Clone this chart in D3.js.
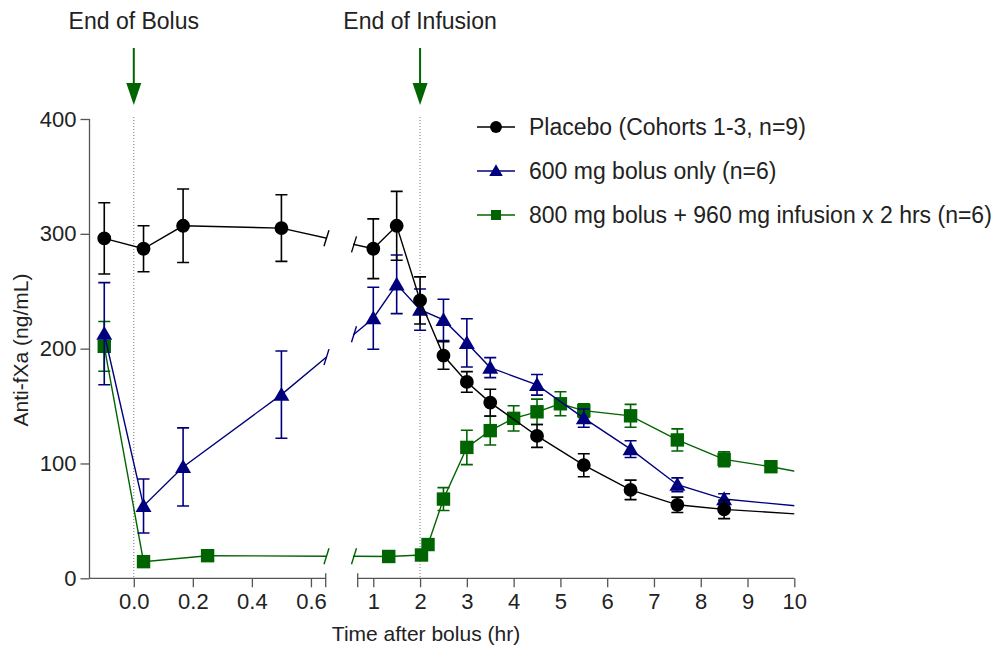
<!DOCTYPE html>
<html>
<head>
<meta charset="utf-8">
<script src="https://cdn.jsdelivr.net/npm/d3@7"></script>
<style>
  html, body { margin: 0; padding: 0; background: #fff; }
  svg text { font-family: "Liberation Sans", Arial, sans-serif; fill: #222; }
</style>
</head>
<body>
<svg id="chart" width="998" height="650"></svg>
<script>
// Anti-fXa activity over time, three dosing cohorts (mean ± SEM)
const placeboTime = [-0.1, 0.033, 0.167, 0.5, 1, 1.5, 2, 2.5, 3, 3.5, 4.5, 5.5, 6.5, 7.5, 8.5, 12];
const placeboMean = [296, 287, 307, 305, 287, 307, 242, 194, 171, 153, 124, 98.5, 77, 64, 60, 51];
const placeboSem  = [31, 20, 32, 29, 26, 30, 20.5, 12, 9, 11.6, 10, 10, 8.5, 6.7, 8, 0];

const bolusTime = [-0.1, 0.033, 0.167, 0.5, 1, 1.5, 2, 2.5, 3, 3.5, 4.5, 5.5, 6.5, 7.5, 8.5, 12];
const bolusMean = [213, 63, 97, 160, 226.5, 256, 234, 225, 205, 183.5, 168.5, 139.5, 112.5, 81.5, 69, 55.5];
const bolusSem  = [44.5, 23.5, 34, 38, 27, 25.5, 18, 18, 21, 8.7, 9, 8, 7.3, 6, 4.6, 0];

const infusionTime = [-0.1, 0.033, 0.25, 1.33, 2.03, 2.17, 2.5, 3, 3.5, 4, 4.5, 5, 5.5, 6.5, 7.5, 8.5, 9.5, 12];
const infusionMean = [202, 14.5, 19.7, 19, 20.3, 29.4, 69, 114, 128.6, 139.3, 145, 152, 146, 141.5, 120.5, 103.6, 97.2, 78];
const infusionSem  = [21.7, 3, 2, 2, 2, 3, 10, 15, 12.5, 11, 11, 10.5, 6, 10, 9.6, 6.5, 3, 0];

const seriesNames = ["Placebo (Cohorts 1-3, n=9)", "600 mg bolus only (n=6)", "800 mg bolus + 960 mg infusion x 2 hrs (n=6)"];
const seriesColors = ["#000000", "#00007f", "#006400"];
const seriesShapes = ["circle", "triangle", "square"];

const leftTicks = [0.0, 0.2, 0.4, 0.6];
const rightTicks = [1, 2, 3, 4, 5, 6, 7, 8, 9, 10];
const yTicks = [0, 100, 200, 300, 400];
const markerLines = [
  { t: 0, label: "End of Bolus" },
  { t: 2, label: "End of Infusion" }
];

const svg = d3.select("#chart");

// Broken x axis: two linear segments
const leftDomain = [-0.15, 0.65], rightDomain = [2 / 3, 10];
const xL = d3.scaleLinear().domain(leftDomain).range([89.5, 325.7]);
const xR = d3.scaleLinear().domain(rightDomain).range([357.7, 794.3]);
const xPos = t => (t <= leftDomain[1] ? xL(t) : xR(t));
const y = d3.scaleLinear().domain([0, 400]).range([578.3, 119]);

const axisColor = "#555";
const tickFont = 22;

// clip regions for each panel of the broken axis
const defs = svg.append("defs");
defs.append("clipPath").attr("id", "clipL").append("rect")
  .attr("x", 80).attr("y", 100).attr("width", 326.7 - 80).attr("height", 500);
defs.append("clipPath").attr("id", "clipR").append("rect")
  .attr("x", 353).attr("y", 100).attr("width", 794.3 - 353).attr("height", 500);

// dotted reference lines + arrows + labels
markerLines.forEach(m => {
  const px = xPos(m.t);
  svg.append("line")
    .attr("x1", px).attr("x2", px).attr("y1", 117).attr("y2", y(0))
    .attr("stroke", "#777").attr("stroke-width", 1).attr("stroke-dasharray", "1,2");
  svg.append("line")
    .attr("x1", px).attr("x2", px).attr("y1", 48).attr("y2", 86)
    .attr("stroke", "#006400").attr("stroke-width", 2);
  svg.append("path")
    .attr("d", `M${px - 7.5},83 L${px + 7.5},83 L${px},105 Z`)
    .attr("fill", "#006400");
  svg.append("text")
    .attr("x", px).attr("y", 28.5).attr("text-anchor", "middle")
    .attr("font-size", 23).text(m.label);
});

// y axis
const gy = svg.append("g").attr("transform", "translate(89.5,0)");
gy.call(d3.axisLeft(y).tickValues(yTicks).tickSize(9).tickPadding(4).tickFormat(d3.format("d")));
gy.select(".domain").attr("d", `M0,${y(400)}V${y(0)}`);
gy.selectAll("line, path").attr("stroke", axisColor).attr("stroke-width", 1.3);
gy.selectAll("text").attr("font-size", tickFont).attr("fill", "#222").attr("font-family", "Liberation Sans, Arial, sans-serif");

// x axes (two segments)
function drawXAxis(scale, ticks, fmt) {
  const g = svg.append("g").attr("transform", `translate(0,${y(0)})`);
  g.call(d3.axisBottom(scale).tickValues(ticks).tickSize(9).tickPadding(6).tickFormat(fmt));
  const [r0, r1] = scale.range();
  g.select(".domain").attr("d", `M${r0},0H${r1}`);
  g.selectAll("line, path").attr("stroke", axisColor).attr("stroke-width", 1.3);
  g.selectAll("text").attr("font-size", tickFont).attr("fill", "#222").attr("font-family", "Liberation Sans, Arial, sans-serif");
  return g;
}
const gxl = drawXAxis(xL, leftTicks, d3.format(".1f"));
const gxr = drawXAxis(xR, rightTicks, d3.format("d"));
// break caps at the inner ends of the two axis segments
[[gxl, xL.range()[1]], [gxr, xR.range()[0]]].forEach(([g, px]) => {
  g.append("line").attr("x1", px).attr("x2", px).attr("y1", -5).attr("y2", 9)
    .attr("stroke", axisColor).attr("stroke-width", 1.3);
});

// axis titles
svg.append("text")
  .attr("x", 426).attr("y", 641).attr("text-anchor", "middle")
  .attr("font-size", 21).text("Time after bolus (hr)");
svg.append("text")
  .attr("transform", "translate(28,350) rotate(-90)")
  .attr("text-anchor", "middle")
  .attr("font-size", 21).text("Anti-fXa (ng/mL)");

// marker symbol generator
function symbolPath(shape, size) {
  if (shape === "circle") return d3.symbol(d3.symbolCircle, size)();
  if (shape === "square") return d3.symbol(d3.symbolSquare, size)();
  return d3.symbol(d3.symbolTriangle, size)();
}

const series = [
  { name: seriesNames[0], t: placeboTime, m: placeboMean, e: placeboSem, color: seriesColors[0], shape: seriesShapes[0] },
  { name: seriesNames[1], t: bolusTime, m: bolusMean, e: bolusSem, color: seriesColors[1], shape: seriesShapes[1] },
  { name: seriesNames[2], t: infusionTime, m: infusionMean, e: infusionSem, color: seriesColors[2], shape: seriesShapes[2] }
];
const markerSize = { circle: 150, triangle: 110, square: 180 };

const line = d3.line().x(d => xPos(d.t)).y(d => y(d.m));
const breakL = 326.5, breakR = 354;

series.slice().reverse().forEach(s => {
  const pts = s.t.map((t, i) => ({ t, m: s.m[i], e: s.e[i] }));
  const g = svg.append("g");
  ["clipL", "clipR"].forEach(id => {
    g.append("path").datum(pts)
      .attr("clip-path", `url(#${id})`)
      .attr("d", line).attr("fill", "none")
      .attr("stroke", s.color).attr("stroke-width", 1.4);
  });
  // break marks where the line crosses the gap between panels
  const iL = pts.findIndex(p => p.t > leftDomain[1]);
  if (iL > 0) {
    const a = pts[iL - 1], b = pts[iL];
    const ax = xPos(a.t), bx = xPos(b.t), ay = y(a.m), by = y(b.m);
    [breakL, breakR].forEach(px => {
      const py = ay + (by - ay) * (px - ax) / (bx - ax);
      g.append("line")
        .attr("x1", px - 2.5).attr("y1", py + 8).attr("x2", px + 2.5).attr("y2", py - 8)
        .attr("stroke", s.color).attr("stroke-width", 1.4);
    });
  }
  const vis = pts.filter(p => p.t <= rightDomain[1]);
  // error bars
  vis.filter(p => p.e > 0).forEach(p => {
    const px = xPos(p.t);
    g.append("path")
      .attr("d", `M${px},${y(p.m + p.e)}V${y(p.m - p.e)}M${px - 6},${y(p.m + p.e)}H${px + 6}M${px - 6},${y(p.m - p.e)}H${px + 6}`)
      .attr("stroke", s.color).attr("stroke-width", 1.6).attr("fill", "none");
  });
  // markers
  g.selectAll(".mk").data(vis).enter().append("path")
    .attr("transform", p => `translate(${xPos(p.t)},${y(p.m) + (s.shape === "triangle" ? 1.5 : 0)})`)
    .attr("d", symbolPath(s.shape, markerSize[s.shape]))
    .attr("fill", s.color);
});

// legend
const legendY = [127, 171, 215];
series.forEach((s, i) => {
  const gy0 = legendY[i];
  svg.append("line").attr("x1", 477).attr("x2", 515).attr("y1", gy0).attr("y2", gy0)
    .attr("stroke", s.color).attr("stroke-width", 1.4);
  svg.append("path")
    .attr("transform", `translate(496,${gy0 + (s.shape === "triangle" ? 1 : 0)})`)
    .attr("d", symbolPath(s.shape, s.shape === "circle" ? 110 : (s.shape === "square" ? 100 : 80)))
    .attr("fill", s.color);
  svg.append("text").attr("x", 529).attr("y", gy0 + 7.5)
    .attr("font-size", 23).text(s.name);
});
</script>
</body>
</html>
